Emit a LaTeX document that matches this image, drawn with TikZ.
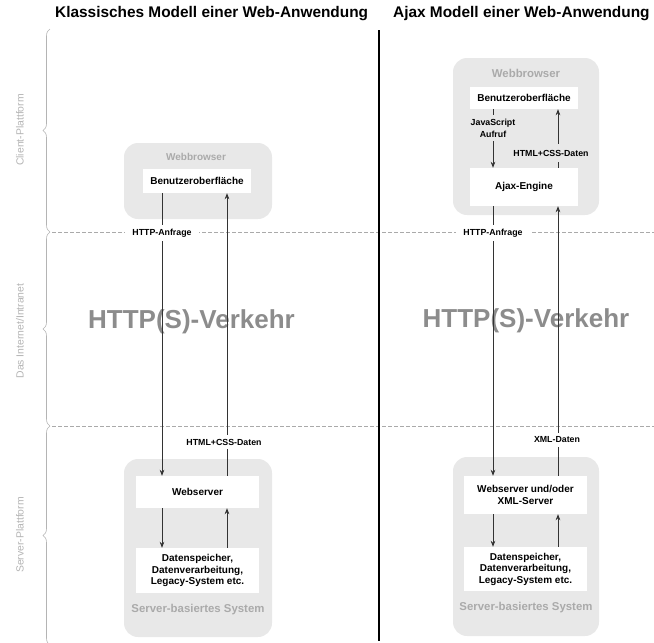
\documentclass[tikz,border=0pt]{standalone}
\usepackage{fontspec}
\setmainfont{Liberation Sans}
\usetikzlibrary{arrows.meta,decorations.pathreplacing}
\definecolor{boxgray}{HTML}{E8E8E8}
\definecolor{titlegray}{HTML}{AAAAAA}
\definecolor{biggray}{HTML}{8C8C8C}
\definecolor{bracegray}{HTML}{B4B4B4}
\definecolor{linegray}{HTML}{333333}
\tikzset{
  outerbox/.style={fill=boxgray, draw=none, rounded corners=14pt, inner sep=0pt},
  innerbox/.style={fill=white, draw=none, inner sep=0pt, align=center,
     font=\fontsize{10}{11.5}\selectfont\bfseries},
  boxtitle/.style={text=titlegray, inner sep=0pt, font=\fontsize{11.4}{13}\selectfont\bfseries},
  lbl/.style={fill=white, inner xsep=7pt, inner ysep=4pt, align=center,
     font=\fontsize{8.8}{12}\selectfont\bfseries},
  glbl/.style={lbl, fill=boxgray},
  arr/.style={draw=linegray, line width=0.8pt, -{Stealth[length=6pt,width=4.6pt]}},
  sep/.style={draw=titlegray, line width=0.5pt, dash pattern=on 4pt off 2pt},
  brc/.style={draw=bracegray, line width=0.6pt, decorate, decoration={brace, amplitude=7pt}},
  sidelbl/.style={text=bracegray, rotate=90, inner sep=0pt, font=\fontsize{10.4}{12}\selectfont},
  big/.style={text=biggray, inner sep=0pt, font=\fontsize{26}{30}\selectfont\bfseries},
  ttl/.style={anchor=west, inner sep=0pt, font=\fontsize{15.4}{18}\selectfont\bfseries}
}
\begin{document}
\begin{tikzpicture}[x=1pt,y=-1pt]
\useasboundingbox (0,0) rectangle (654,643);

% titles
\node[ttl] (t1) at (55,14) {Klassisches Modell einer Web-Anwendung};
\node[ttl] (t2) at (393,14) {Ajax Modell einer Web-Anwendung};

% side braces and labels
\coordinate (b0) at (50,29);
\coordinate (b1) at (50,232);
\coordinate (b2) at (50,426);
\coordinate (b3) at (50,645);
\draw[brc] (b1) -- (b0);
\draw[brc] (b2) -- (b1);
\draw[brc] (b3) -- (b2);
\node[sidelbl] (s1) at (20,130) {Client-Plattform};
\node[sidelbl] (s2) at (20,331) {Das Internet/Intranet};
\node[sidelbl] (s3) at (20,535) {Server-Plattform};

% dashed separators
\coordinate (d1a) at (52,232); \coordinate (d1b) at (654,232);
\coordinate (d2a) at (52,426); \coordinate (d2b) at (654,426);
\draw[sep] (d1a) -- (d1b);
\draw[sep] (d2a) -- (d2b);

% big traffic labels
\node[big] (v1) at (191.5,322) {HTTP(S)-Verkehr};
\node[big] (v2) at (526,321) {HTTP(S)-Verkehr};

% middle divider
\coordinate (m0) at (379,30); \coordinate (m1) at (379,641);
\draw[line width=2.8pt] (m0) -- (m1);

% ---------- left: classic model ----------
\node[outerbox, minimum width=148pt, minimum height=76pt] (wb1) at (198,181) {};
\node[boxtitle, font=\fontsize{10}{12}\selectfont\bfseries] (wb1t) at (196,157) {Webbrowser};
\node[innerbox, minimum width=108pt, minimum height=24pt] (ui1) at (197,181) {Benutzeroberfläche};

\node[outerbox, minimum width=148pt, minimum height=178pt] (srv1) at (198,548) {};
\node[innerbox, minimum width=123pt, minimum height=32pt] (ws1) at (197.5,492) {Webserver};
\node[innerbox, minimum width=123pt, minimum height=45pt] (db1) at (197.5,570.5) {Datenspeicher,\\Datenverarbeitung,\\Legacy-System etc.};
\node[boxtitle] (srv1t) at (198,610) {Server-basiertes System};

\coordinate (xl1) at (162,0);
\coordinate (xr1) at (227,0);
\draw[arr] (ui1.south -| xl1) -- (ws1.north -| xl1);
\draw[arr] (ws1.north -| xr1) -- (ui1.south -| xr1);
\draw[arr] (ws1.south -| xl1) -- (db1.north -| xl1);
\draw[arr] (db1.north -| xr1) -- (ws1.south -| xr1);
\node[lbl] (h1) at (162,233) {HTTP-Anfrage};
\node[lbl] (c1) at (224,442) {HTML+CSS-Daten};

% ---------- right: Ajax model ----------
\node[outerbox, minimum width=146pt, minimum height=157pt] (wb2) at (526,136.5) {};
\node[boxtitle] (wb2t) at (526,73) {Webbrowser};
\node[innerbox, minimum width=108pt, minimum height=22pt] (ui2) at (524,98) {Benutzeroberfläche};
\node[innerbox, minimum width=108pt, minimum height=38pt] (ajax) at (524,187) {Ajax-Engine};

\node[outerbox, minimum width=146pt, minimum height=179pt] (srv2) at (526,546.5) {};
\node[innerbox, minimum width=123pt, minimum height=38pt] (ws2) at (525.5,495) {Webserver und/oder\\XML-Server};
\node[innerbox, minimum width=123pt, minimum height=44pt] (db2) at (525.5,569) {Datenspeicher,\\Datenverarbeitung,\\Legacy-System etc.};
\node[boxtitle] (srv2t) at (526,608) {Server-basiertes System};

\coordinate (xl2) at (493,0);
\coordinate (xr2) at (558,0);
\draw[arr] (ui2.south -| xl2) -- (ajax.north -| xl2);
\draw[arr] (ajax.north -| xr2) -- (ui2.south -| xr2);
\draw[arr] (ajax.south -| xl2) -- (ws2.north -| xl2);
\draw[arr] (ws2.north -| xr2) -- (ajax.south -| xr2);
\draw[arr] (ws2.south -| xl2) -- (db2.north -| xl2);
\draw[arr] (db2.north -| xr2) -- (ws2.south -| xr2);
\node[glbl] (j2) at (493,128) {JavaScript\\Aufruf};
\node[glbl, inner ysep=6pt] (c2) at (551,153) {HTML+CSS-Daten};
\node[lbl] (h2) at (493,233) {HTTP-Anfrage};
\node[lbl] (x2) at (557,440) {XML-Daten};
\end{tikzpicture}
\end{document}
